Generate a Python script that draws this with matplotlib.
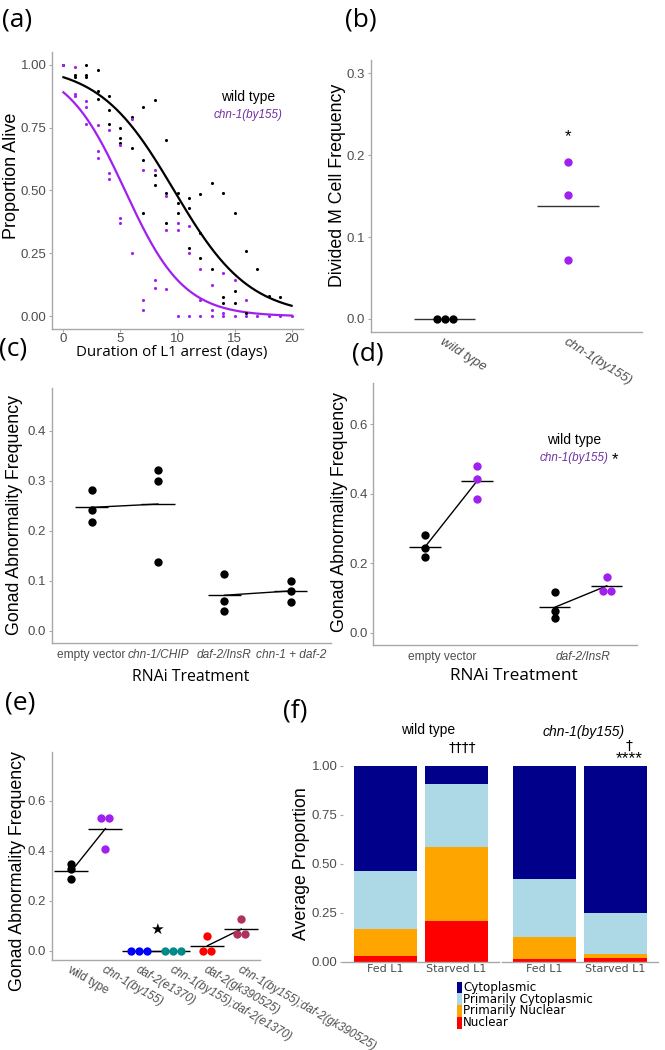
import numpy as np
import matplotlib
matplotlib.use("Agg")
import matplotlib.pyplot as plt
from matplotlib import font_manager
from matplotlib.patches import Rectangle

# ---- data ------------------------------------------------------------------
# (a) survival during L1 arrest
wt_days = [0, 1, 1, 2, 2, 2, 3, 3, 3, 4, 4, 4, 5, 5, 5, 6, 6, 7, 7, 7, 8, 8, 8,
           9, 9, 9, 10, 10, 10, 11, 11, 11, 12, 12, 12, 13, 13, 14, 14, 14,
           15, 15, 15, 16, 16, 17, 18, 19]
wt_alive = [1.00, 0.96, 0.95, 1.00, 0.96, 0.95, 0.98, 0.895, 0.865, 0.875, 0.82, 0.765,
            0.75, 0.71, 0.69, 0.79, 0.67, 0.83, 0.62, 0.41, 0.86, 0.56, 0.52,
            0.70, 0.49, 0.37, 0.49, 0.45, 0.41, 0.47, 0.43, 0.27, 0.485, 0.33, 0.23,
            0.53, 0.19, 0.49, 0.079, 0.053, 0.41, 0.10, 0.053, 0.26, 0.013,
            0.19, 0.083, 0.079]
chn_days = [0, 1, 1, 1, 2, 2, 2, 3, 3, 3, 4, 4, 4, 5, 5, 5, 6, 6, 7, 7, 7, 8, 8, 8,
            9, 9, 9, 10, 10, 10, 11, 11, 11, 12, 12, 12, 13, 13, 13, 14, 14, 14,
            15, 15, 16, 16, 17, 18, 19, 20]
chn_alive = [1.00, 0.99, 0.885, 0.875, 0.857, 0.83, 0.765, 0.76, 0.655, 0.63,
             0.74, 0.57, 0.545, 0.68, 0.39, 0.37, 0.785, 0.25, 0.58, 0.065, 0.025,
             0.58, 0.146, 0.112, 0.48, 0.345, 0.107, 0.37, 0.345, 0.0,
             0.36, 0.25, 0.0, 0.19, 0.066, 0.0, 0.123, 0.027, 0.0, 0.172, 0.013, 0.0,
             0.146, 0.0, 0.066, 0.0, 0.0, 0.0, 0.0, 0.0]
# logistic fits (intercept, slope)
wt_fit = (2.94, -0.303)
chn_fit = (2.09, -0.387)

# (b) divided M cell frequency
b_groups = ["wild type", "chn-1(by155)"]
b_values = [[0.0, 0.0, 0.0], [0.192, 0.151, 0.072]]

# (c) RNAi, wild type
c_groups = ["empty vector", "chn-1/CHIP", "daf-2/InsR", "chn-1 + daf-2"]
c_italic = [False, True, True, True]
c_values = [[0.281, 0.241, 0.217], [0.321, 0.300, 0.138],
            [0.114, 0.059, 0.039], [0.100, 0.080, 0.058]]

# (d) RNAi, wild type vs chn-1
d_groups = ["empty vector", "daf-2/InsR"]
d_wt = [[0.281, 0.243, 0.217], [0.118, 0.062, 0.042]]
d_chn = [[0.481, 0.442, 0.385], [0.162, 0.122, 0.122]]

# (e) mutants
e_groups = ["wild type", "chn-1(by155)", "daf-2(e1370)", "chn-1(by155);daf-2(e1370)",
            "daf-2(gk390525)", "chn-1(by155);daf-2(gk390525)"]
e_colors = ["black", "#A020F0", "#0000FF", "#008B8B", "#FF0000", "#B03060"]
e_values = [[0.345, 0.325, 0.285], [0.53, 0.53, 0.405], [0.0, 0.0, 0.0],
            [0.0, 0.0, 0.0], [0.06, 0.0, 0.0], [0.126, 0.067, 0.067]]

# (f) localisation
f_genotypes = ["wild type", "chn-1(by155)"]
f_conditions = ["Fed L1", "Starved L1"]
f_classes = ["Nuclear", "Primarily Nuclear", "Primarily Cytoplasmic", "Cytoplasmic"]
f_colors = ["#FF0000", "#FFA500", "#ADD8E6", "#00008B"]
f_props = {
    "wild type": [[0.031, 0.135, 0.299, 0.535], [0.208, 0.378, 0.320, 0.094]],
    "chn-1(by155)": [[0.015, 0.113, 0.295, 0.577], [0.019, 0.022, 0.208, 0.751]],
}

# ---- helpers ----------------------------------------------------------------
W, H = 665, 1050
GREY = "#4D4D4D"
SPINE = "#A8A8A8"
PURPLE = "#A020F0"
PTEXT = "#7030A0"

plt.rcParams["font.family"] = ["Liberation Sans", "DejaVu Sans"]

# the in-plot legends use a condensed italic; take the narrow face if present
_names = {f.name for f in font_manager.fontManager.ttflist}
if "Liberation Sans Narrow" in _names:
    NARROW = dict(family="Liberation Sans Narrow", fontsize=10)
else:
    NARROW = dict(fontsize=8.4)

fig = plt.figure(figsize=(W / 100, H / 100), dpi=100)


def box(x0, y0, x1, y1):
    ax = fig.add_axes([x0 / W, 1 - y1 / H, (x1 - x0) / W, (y1 - y0) / H])
    ax.patch.set_alpha(0)   # let rotated labels of other panels show through
    return ax


def ftext(x, y, s, **kw):
    kw.setdefault("ha", "center")
    kw.setdefault("va", "center")
    fig.text(x / W, 1 - y / H, s, **kw)


def style(ax, left=True):
    for s in ["top", "right"]:
        ax.spines[s].set_visible(False)
    ax.spines["left"].set_visible(left)
    for s in ["left", "bottom"]:
        ax.spines[s].set_color(SPINE)
        ax.spines[s].set_linewidth(1.0)
    ax.tick_params(colors=SPINE, labelcolor=GREY, labelsize=9.5, length=2.5, width=0.8, pad=1.5)


def swarm(ax, xc, vals, diam=8.0):
    # put identical values side by side, centred on xc
    t = ax.transData
    dx = diam / (t.transform((1, 0))[0] - t.transform((0, 0))[0])
    vals = np.asarray(vals)
    xs = np.full(len(vals), float(xc))
    for v in np.unique(vals):
        idx = np.where(vals == v)[0]
        xs[idx] = xc + (np.arange(len(idx)) - (len(idx) - 1) / 2) * dx
    return xs


def panel_label(x, y, s):
    ftext(x, y, s, ha="left", fontsize=19, family="Open Sans")


# ---- (a) --------------------------------------------------------------------
ax = box(52, 52, 303, 329)
style(ax)
ax.set_xlim(-1, 21)
ax.set_ylim(-0.05, 1.05)
ax.scatter(wt_days, wt_alive, s=5, color="black", lw=0, zorder=3)
ax.scatter(chn_days, chn_alive, s=5, color=PURPLE, lw=0, zorder=3)
xx = np.linspace(0, 20, 200)
ax.plot(xx, 1 / (1 + np.exp(-(wt_fit[0] + wt_fit[1] * xx))), color="black", lw=1.6)
ax.plot(xx, 1 / (1 + np.exp(-(chn_fit[0] + chn_fit[1] * xx))), color=PURPLE, lw=1.6)
ax.set_xticks([0, 5, 10, 15, 20])
ax.set_yticks([0, 0.25, 0.5, 0.75, 1.0])
ax.set_yticklabels(["0.00", "0.25", "0.50", "0.75", "1.00"])
ax.tick_params(axis="x", pad=0.5)
ftext(248, 97, "wild type", fontsize=10)
ftext(248, 115, "chn-1(by155)", style="italic", color=PTEXT, **NARROW)
ftext(12, 176, "Proportion Alive", rotation=90, fontsize=13)
ftext(172, 353, "Duration of L1 arrest (days)", fontsize=10.8, family="Open Sans")
panel_label(2, 20, "(a)")

# ---- (b) --------------------------------------------------------------------
ax = box(370.7, 60, 641.7, 331.7)
style(ax)
ax.set_xlim(0.4, 2.6)
ax.set_ylim(-0.0155, 0.316)
for i, vals in enumerate(b_values):
    xc = i + 1
    col = "black" if i == 0 else PURPLE
    ax.scatter(swarm(ax, xc, vals), vals, s=36, color=col, lw=0, zorder=3)
    ax.hlines(np.mean(vals), xc - 0.25, xc + 0.25, color="#333333", lw=1.0)
ax.text(2, 0.223, "*", ha="center", va="center", fontsize=12)
ax.set_yticks([0, 0.1, 0.2, 0.3])
ax.set_xticks([1, 2])
ax.set_xticklabels(b_groups, rotation=-32, ha="left", rotation_mode="anchor", fontsize=9.5)
for lab in ax.get_xticklabels():
    lab.set_fontstyle("italic")
ax.tick_params(axis="x", length=0, pad=3)
ftext(337, 185, "Divided M Cell Frequency", rotation=90, fontsize=12.8)
panel_label(345, 20, "(b)")

# ---- (c) --------------------------------------------------------------------
ax = box(51.7, 388, 330.7, 643)
style(ax)
ax.set_xlim(0.4, 4.6)
ax.set_ylim(-0.0248, 0.485)
means = [np.mean(v) for v in c_values]
for i, vals in enumerate(c_values):
    xc = i + 1
    ax.scatter(swarm(ax, xc, vals), vals, s=36, color="black", lw=0, zorder=3)
    ax.hlines(means[i], xc - 0.25, xc + 0.25, color="black", lw=1.0)
for a, b in [(0, 1), (2, 3)]:
    ax.plot([a + 1, b + 1], [means[a], means[b]], color="black", lw=1.0)
ax.set_yticks([0, 0.1, 0.2, 0.3, 0.4])
ax.set_xticks(range(1, 5))
ax.set_xticklabels(c_groups, fontsize=8.6)
for lab, it in zip(ax.get_xticklabels(), c_italic):
    lab.set_fontstyle("italic" if it else "normal")
ax.tick_params(axis="x", length=0, pad=4)
ftext(191, 677, "RNAi Treatment", fontsize=11.4, family="Open Sans")
ftext(15, 515, "Gonad Abnormality Frequency", rotation=90, fontsize=12.8)
panel_label(-1, 349, "(c)")

# ---- (d) --------------------------------------------------------------------
ax = box(373, 383, 636.7, 645)
style(ax)
ax.set_xlim(0.4, 2.43)
ax.set_ylim(-0.0345, 0.718)
for i in range(len(d_groups)):
    xw, xm = i + 1 - 0.2, i + 1 + 0.2
    mw, mm = np.mean(d_wt[i]), np.mean(d_chn[i])
    ax.plot([xw, xm], [mw, mm], color="black", lw=1.0)
    ax.hlines(mw, xw - 0.12, xw + 0.12, color="black", lw=1.0)
    ax.hlines(mm, xm - 0.12, xm + 0.12, color="black", lw=1.0)
    ax.scatter(swarm(ax, xw, d_wt[i]), d_wt[i], s=36, color="black", lw=0, zorder=3)
    ax.scatter(swarm(ax, xm, d_chn[i]), d_chn[i], s=36, color=PURPLE, lw=0, zorder=3)
ax.set_yticks([0, 0.2, 0.4, 0.6])
ax.set_xticks([0.93, 2.02])
ax.set_xticklabels(d_groups, fontsize=8.6)
ax.get_xticklabels()[1].set_fontstyle("italic")
ax.tick_params(axis="x", length=0, pad=4)
ftext(574.5, 440, "wild type", fontsize=10)
ftext(574, 458.5, "chn-1(by155)", style="italic", color=PTEXT, **NARROW)
ftext(615, 460, "*", fontsize=12)
ftext(513.5, 676, "RNAi Treatment", fontsize=12.4, family="Open Sans")
ftext(340, 512, "Gonad Abnormality Frequency", rotation=90, fontsize=12.8)
panel_label(352, 354, "(d)")

# ---- (e) --------------------------------------------------------------------
ax = box(51.7, 751.7, 260, 960)
style(ax)
ax.set_xlim(0.42, 6.55)
ax.set_ylim(-0.037, 0.796)
e_means = [np.mean(v) for v in e_values]
for a, b in [(0, 1), (2, 3), (4, 5)]:
    ax.plot([a + 1, b + 1], [e_means[a], e_means[b]], color="black", lw=1.0, zorder=2)
for i, vals in enumerate(e_values):
    xc = i + 1
    ax.scatter(swarm(ax, xc, vals), vals, s=36, color=e_colors[i], lw=0, zorder=3)
    ax.hlines(e_means[i], xc - 0.5, xc + 0.5, color="black", lw=1.0, zorder=2)
ax.text(3.5, 0.087, "★", ha="center", va="center", fontsize=11, family="DejaVu Sans")
ax.set_yticks([0, 0.2, 0.4, 0.6])
ax.set_xticks(range(1, 7))
ax.set_xticklabels(e_groups, rotation=-30, ha="left", rotation_mode="anchor", fontsize=8.4)
for lab in ax.get_xticklabels()[1:]:
    lab.set_fontstyle("italic")
ax.tick_params(axis="x", length=0, pad=2.5)
ftext(18, 871, "Gonad Abnormality Frequency", rotation=90, fontsize=12.8)
panel_label(5, 703, "(e)")

# ---- (f) --------------------------------------------------------------------
for k, (g, x0) in enumerate(zip(f_genotypes, [343, 502])):
    ax = box(x0, 766, x0 + 156, 961.7)
    style(ax, left=False)
    ax.set_xlim(0.4, 2.6)
    ax.set_ylim(0, 1)
    props = np.array(f_props[g])
    bottom = np.zeros(len(f_conditions))
    for j, cls in enumerate(f_classes):
        ax.bar(np.arange(1, 3), props[:, j], width=0.9, bottom=bottom,
               color=f_colors[j], lw=0)
        bottom += props[:, j]
    ax.set_xticks([1, 2])
    ax.set_xticklabels(f_conditions, family="DejaVu Sans", fontsize=8)
    ax.tick_params(axis="x", length=0, pad=2, labelcolor=GREY)
    if k == 0:
        ax.set_yticks([0, 0.25, 0.5, 0.75, 1.0])
        ax.set_yticklabels(["0.00", "0.25", "0.50", "0.75", "1.00"])
    else:
        ax.set_yticks([])
ftext(428, 730, "wild type", fontsize=10)
ftext(584, 732, "chn-1(by155)", fontsize=10, style="italic")
ftext(462, 748, "††††", fontsize=10, family="DejaVu Sans")
ftext(629, 746, "†", fontsize=10, family="DejaVu Sans")
ftext(629, 759, "****", fontsize=12.5)
ftext(302, 864, "Average Proportion", rotation=90, fontsize=12.8)
panel_label(283, 711, "(f)")

# legend for (f), Cytoplasmic first
for r, j in enumerate(reversed(range(len(f_classes)))):
    y = 981.7 + r * 11.7
    fig.add_artist(Rectangle((456.7 / W, 1 - (y + 11.7) / H), 5 / W, 11.7 / H,
                             transform=fig.transFigure, color=f_colors[j], lw=0))
    ftext(463.3, y + 5.85, f_classes[j], ha="left", fontsize=8.6, family="DejaVu Sans")

fig.savefig("out.png", dpi=100)
